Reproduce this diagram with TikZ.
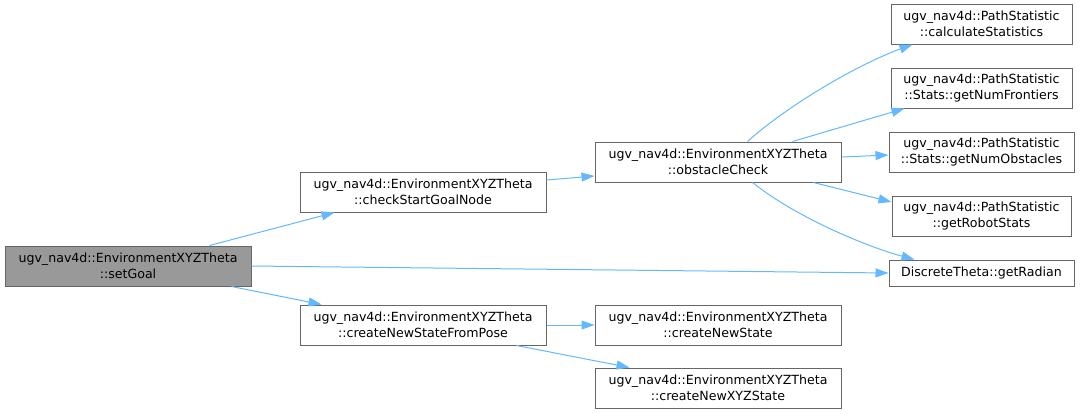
\documentclass[tikz,border=0pt]{standalone}
\usepackage{fontspec}
\setmainfont{DejaVu Sans}
\usetikzlibrary{arrows.meta}
\definecolor{edgeblue}{HTML}{63B8FF}
\definecolor{boxborder}{HTML}{666666}
\definecolor{activefill}{HTML}{999999}
\tikzset{
  fn/.style={draw=boxborder, line width=1pt, fill=white, rectangle, inner sep=0pt,
    align=center, font=\fontsize{12.6}{15.5}\selectfont, text=black},
  activefn/.style={fn, fill=activefill},
  call/.style={draw=edgeblue, line width=1pt, -{Triangle[length=13pt,width=9pt]}},
}
\begin{document}
\begin{tikzpicture}[x=1pt,y=-1pt]
\useasboundingbox (0,0) rectangle (1081,413);
% column 0
\node[activefn, minimum width=246pt, minimum height=40pt] (sg) at (128,266) {ugv\_nav4d::EnvironmentXYZTheta\\::setGoal};
% column 1
\node[fn, minimum width=246pt, minimum height=40pt] (csg) at (423,192) {ugv\_nav4d::EnvironmentXYZTheta\\::checkStartGoalNode};
\node[fn, minimum width=246pt, minimum height=40pt] (cfp) at (423,325) {ugv\_nav4d::EnvironmentXYZTheta\\::createNewStateFromPose};
% column 2
\node[fn, minimum width=246pt, minimum height=40pt] (oc) at (718,162) {ugv\_nav4d::EnvironmentXYZTheta\\::obstacleCheck};
\node[fn, minimum width=246pt, minimum height=40pt] (cns) at (718,325) {ugv\_nav4d::EnvironmentXYZTheta\\::createNewState};
\node[fn, minimum width=246pt, minimum height=40pt] (cxyz) at (718,388) {ugv\_nav4d::EnvironmentXYZTheta\\::createNewXYZState};
% column 3
\node[fn, minimum width=181pt, minimum height=40pt] (cs) at (981.5,24) {ugv\_nav4d::PathStatistic\\::calculateStatistics};
\node[fn, minimum width=181pt, minimum height=40pt] (nf) at (981.5,88) {ugv\_nav4d::PathStatistic\\::Stats::getNumFrontiers};
\node[fn, minimum width=185pt, minimum height=40pt] (no) at (981.5,152) {ugv\_nav4d::PathStatistic\\::Stats::getNumObstacles};
\node[fn, minimum width=179pt, minimum height=40pt] (rs) at (981.5,216) {ugv\_nav4d::PathStatistic\\::getRobotStats};
\node[fn, minimum width=185pt, minimum height=26pt] (rad) at (981.5,273) {DiscreteTheta::getRadian};
% edges
\draw[call] ([xshift=205pt]sg.north west) -- ([xshift=35pt]csg.south west);
\draw[call] (sg.east) -- (rad.west);
\draw[call] ([xshift=227pt]sg.south west) -- ([xshift=22pt]cfp.north west);
\draw[call] ([yshift=12pt]csg.east) -- ([yshift=-14pt]oc.west);
\draw[call] ([xshift=153pt]oc.north west) .. controls +(40,-36) and +(-55,20) .. ([xshift=22pt]cs.south west);
\draw[call] ([xshift=198pt]oc.north west) -- ([xshift=14pt]nf.south west);
\draw[call] ([yshift=5pt]oc.east) -- ([yshift=-3pt]no.west);
\draw[call] ([xshift=219pt]oc.south west) -- ([yshift=14pt]rs.west);
\draw[call] ([xshift=158pt]oc.south west) .. controls +(45,36) and +(-45,-12) .. ([xshift=26pt]rad.north west);
\draw[call] (cfp.east) -- (cns.west);
\draw[call] ([xshift=217pt]cfp.south west) -- ([xshift=35pt]cxyz.north west);
\end{tikzpicture}
\end{document}
